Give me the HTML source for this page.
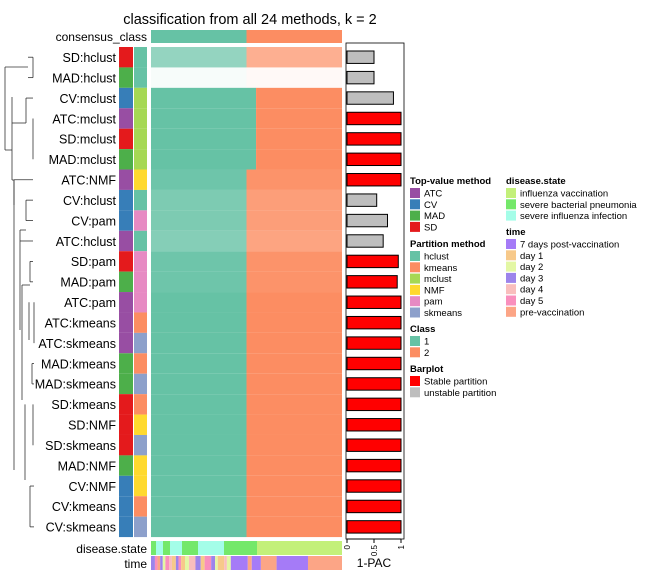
<!DOCTYPE html>
<html><head><meta charset="utf-8"><style>
body{margin:0;background:#fff}
svg{display:block;font-family:"Liberation Sans",sans-serif}
</style></head><body>
<svg id="c" width="648" height="576" xmlns="http://www.w3.org/2000/svg">
<text x="250" y="24" text-anchor="middle" font-size="14.5">classification from all 24 methods, k = 2</text>
</svg>
<script>
const rows=["SD:hclust","MAD:hclust","CV:mclust","ATC:mclust","SD:mclust","MAD:mclust","ATC:NMF","CV:hclust","CV:pam","ATC:hclust","SD:pam","MAD:pam","ATC:pam","ATC:kmeans","ATC:skmeans","MAD:kmeans","MAD:skmeans","SD:kmeans","SD:NMF","SD:skmeans","MAD:NMF","CV:NMF","CV:kmeans","CV:skmeans"];
const pac=[0.5,0.5,0.86,1,1,1,1,0.55,0.75,0.67,0.95,0.93,1,1,1,1,1,1,1,1,1,1,1,1];
const splitFrac=[0.5,0.5,0.55,0.55,0.55,0.55,0.5,0.5,0.5,0.5,0.5,0.5,0.5,0.5,0.5,0.5,0.5,0.5,0.5,0.5,0.5,0.5,0.5,0.5];
const rowAlpha=[0.7,0.05,1,1,1,1,0.95,0.85,0.85,0.8,0.95,0.95,1,1,1,1,1,1,1,1,1,1,1,1];
const topMethod=rows.map(r=>r.split(":")[0]);
const partMethod=rows.map(r=>r.split(":")[1]);
const diseaseSeg=[["bact",5],["inf",7],["bact",7],["inf",12],["bact",16],["inf",26],["bact",33],["vac",85]];
const timeSeg=[["d3",3],["d5",2],["pre",2],["d3",2],["d2",2],["d5",3],["d4",2],["d1",3],["d3",2],["d5",2],["d1",3],["d2",3],["d4",5],["d3",4],["d1",3],["d5",5],["d3",3],["d2",2],["d1",5],["d4",2],["d2",3],["d7",13],["pre",3],["d7",7],["pre",12],["d7",24],["pre",26]];
const cTop={ATC:"#984EA3",CV:"#377EB8",MAD:"#4DAF4A",SD:"#E41A1C"};
const cPart={hclust:"#66C2A5",kmeans:"#FC8D62",mclust:"#A6D854",NMF:"#FFD92F",pam:"#E78AC3",skmeans:"#8DA0CB"};
const cDis={vac:"#C3F07A",bact:"#74E86A",inf:"#A4FDE8"};
const cTime={d7:"#A57BF7",d1:"#F7C98A",d2:"#E3F7A4",d3:"#9C84EB",d4:"#F9BEBD",d5:"#F98FBD",pre:"#FCA586"};
const svg=document.getElementById('c');const NS="http://www.w3.org/2000/svg";
function el(t,a,p){const e=document.createElementNS(NS,t);for(const k in a)e.setAttribute(k,a[k]);(p||svg).appendChild(e);return e;}
const X0=151,X1=342,Y0=47,RH=20.42;
const xs=f=>X0+f*(X1-X0);
const ys=i=>Y0+i*RH;
const bx=v=>347+v*54;
let e=el('rect',{x:X0,y:30,width:xs(0.5)-X0,height:13,fill:"#66C2A5"});


e=el('rect',{x:xs(0.5),y:30,width:X1-xs(0.5),height:13,fill:"#FC8D62"});


e=el('text',{x:147,y:41,"text-anchor":"end","font-size":12});e.textContent="consensus_class";


rows.forEach((r,i)=>{
  const y=ys(i);
  e=el('text',{x:116,y:y+15,"text-anchor":"end","font-size":12.5});e.textContent=r;
  
  
  e=el('rect',{x:119,y:y,width:14,height:RH,fill:cTop[topMethod[i]]});
  
  
  e=el('rect',{x:134,y:y,width:13,height:RH,fill:cPart[partMethod[i]]});
  
  
  const s=xs(splitFrac[i]);
  e=el('rect',{x:X0,y:y,width:s-X0,height:RH,fill:"#66C2A5","fill-opacity":rowAlpha[i]});
  
  
  e=el('rect',{x:s,y:y,width:X1-s,height:RH,fill:"#FC8D62","fill-opacity":rowAlpha[i]});
  
  
  e=el('rect',{x:347,y:y+4,width:bx(pac[i])-347,height:RH-8,fill:pac[i]>=0.9?"#FF0000":"#BEBEBE",stroke:"#000","stroke-width":1});
  
  
});
el('rect',{x:346,y:43,width:58,height:496,fill:"none",stroke:"#000","stroke-width":0.8});
el('line',{x1:347,x2:401,y1:539,y2:539,stroke:"#000"});
[0,0.5,1].forEach(v=>{el('line',{x1:bx(v),x2:bx(v),y1:539,y2:543,stroke:"#000"});
 e=el('text',{x:0,y:0,"font-size":8,transform:`translate(${bx(v)+3},${545}) rotate(-90)`,"text-anchor":"end"});e.textContent=v;
 
 });
e=el('text',{x:374,y:567,"text-anchor":"middle","font-size":12});e.textContent="1-PAC";


const total1=diseaseSeg.reduce((a,b)=>a+b[1],0);let acc=0;
diseaseSeg.forEach(s=>{e=el('rect',{x:xs(acc/total1),y:541,width:xs((acc+s[1])/total1)-xs(acc/total1),height:14,fill:cDis[s[0]]});acc+=s[1];
 
 });
const total2=timeSeg.reduce((a,b)=>a+b[1],0);acc=0;
timeSeg.forEach(s=>{e=el('rect',{x:xs(acc/total2),y:556,width:xs((acc+s[1])/total2)-xs(acc/total2),height:14,fill:cTime[s[0]]});acc+=s[1];
 
 });
e=el('text',{x:147,y:553,"text-anchor":"end","font-size":12});e.textContent="disease.state";

e=el('text',{x:147,y:568,"text-anchor":"end","font-size":12});e.textContent="time";

const dp="#333";
function seg(x1,y1,x2,y2){el('line',{x1,y1,x2,y2,stroke:dp,"stroke-width":0.8});}
const cy=i=>ys(i)+RH/2;
seg(33,cy(0),33,cy(1));seg(33,cy(0),28,cy(0));seg(33,cy(1),28,cy(1));seg(5,67,28,67);
seg(26,cy(2),33,cy(2));seg(26,cy(2),26,123);seg(33,cy(3),33,cy(5));seg(12,123,26,123);
seg(12,97,12,180);seg(5,67,5,150);seg(5,150,12,150);
seg(12,180,14,180);seg(14,180,14,470);seg(14,cy(6),33,cy(6));seg(14,cy(6),14,205);
seg(26,cy(7),26,cy(8));seg(26,cy(7),33,cy(7));seg(26,cy(8),33,cy(8));seg(20,230,26,230);seg(20,230,20,330);seg(20,cy(9),33,cy(9));
seg(30,cy(10),30,cy(11));seg(30,cy(10),33,cy(10));seg(30,cy(11),33,cy(11));seg(22,285,30,285);seg(22,285,22,400);
seg(34,cy(12),34,cy(14));seg(29,cy(12),29,340);seg(32,cy(15),32,cy(16));seg(32,cy(15),34,cy(15));seg(32,cy(16),34,cy(16));
seg(33,cy(17),33,cy(19));seg(25,cy(17),25,480);seg(30,cy(21),30,cy(23));seg(30,cy(21),34,cy(21));seg(30,cy(23),34,cy(23));
function leg(x,y,title,items,cols){e=el('text',{x:x,y:y,"font-size":9.5,"font-weight":"bold"});e.textContent=title;
 
 items.forEach((it,k)=>{e=el('rect',{x:x,y:y+4+k*11.3,width:10,height:10,fill:cols[k]});
 
 e=el('text',{x:x+14,y:y+12.5+k*11.3,"font-size":9.5});e.textContent=it;
 });}
leg(410,184,"Top-value method",["ATC","CV","MAD","SD"],["#984EA3","#377EB8","#4DAF4A","#E41A1C"]);
leg(410,247,"Partition method",["hclust","kmeans","mclust","NMF","pam","skmeans"],["#66C2A5","#FC8D62","#A6D854","#FFD92F","#E78AC3","#8DA0CB"]);
leg(410,332,"Class",["1","2"],["#66C2A5","#FC8D62"]);
leg(410,372,"Barplot",["Stable partition","unstable partition"],["#FF0000","#BEBEBE"]);
leg(506,184,"disease.state",["influenza vaccination","severe bacterial pneumonia","severe influenza infection"],["#C3F07A","#74E86A","#A4FDE8"]);
leg(506,235,"time",["7 days post-vaccination","day 1","day 2","day 3","day 4","day 5","pre-vaccination"],["#A57BF7","#F7C98A","#E3F7A4","#9C84EB","#F9BEBD","#F98FBD","#FCA586"]);
</script>
</body></html>
